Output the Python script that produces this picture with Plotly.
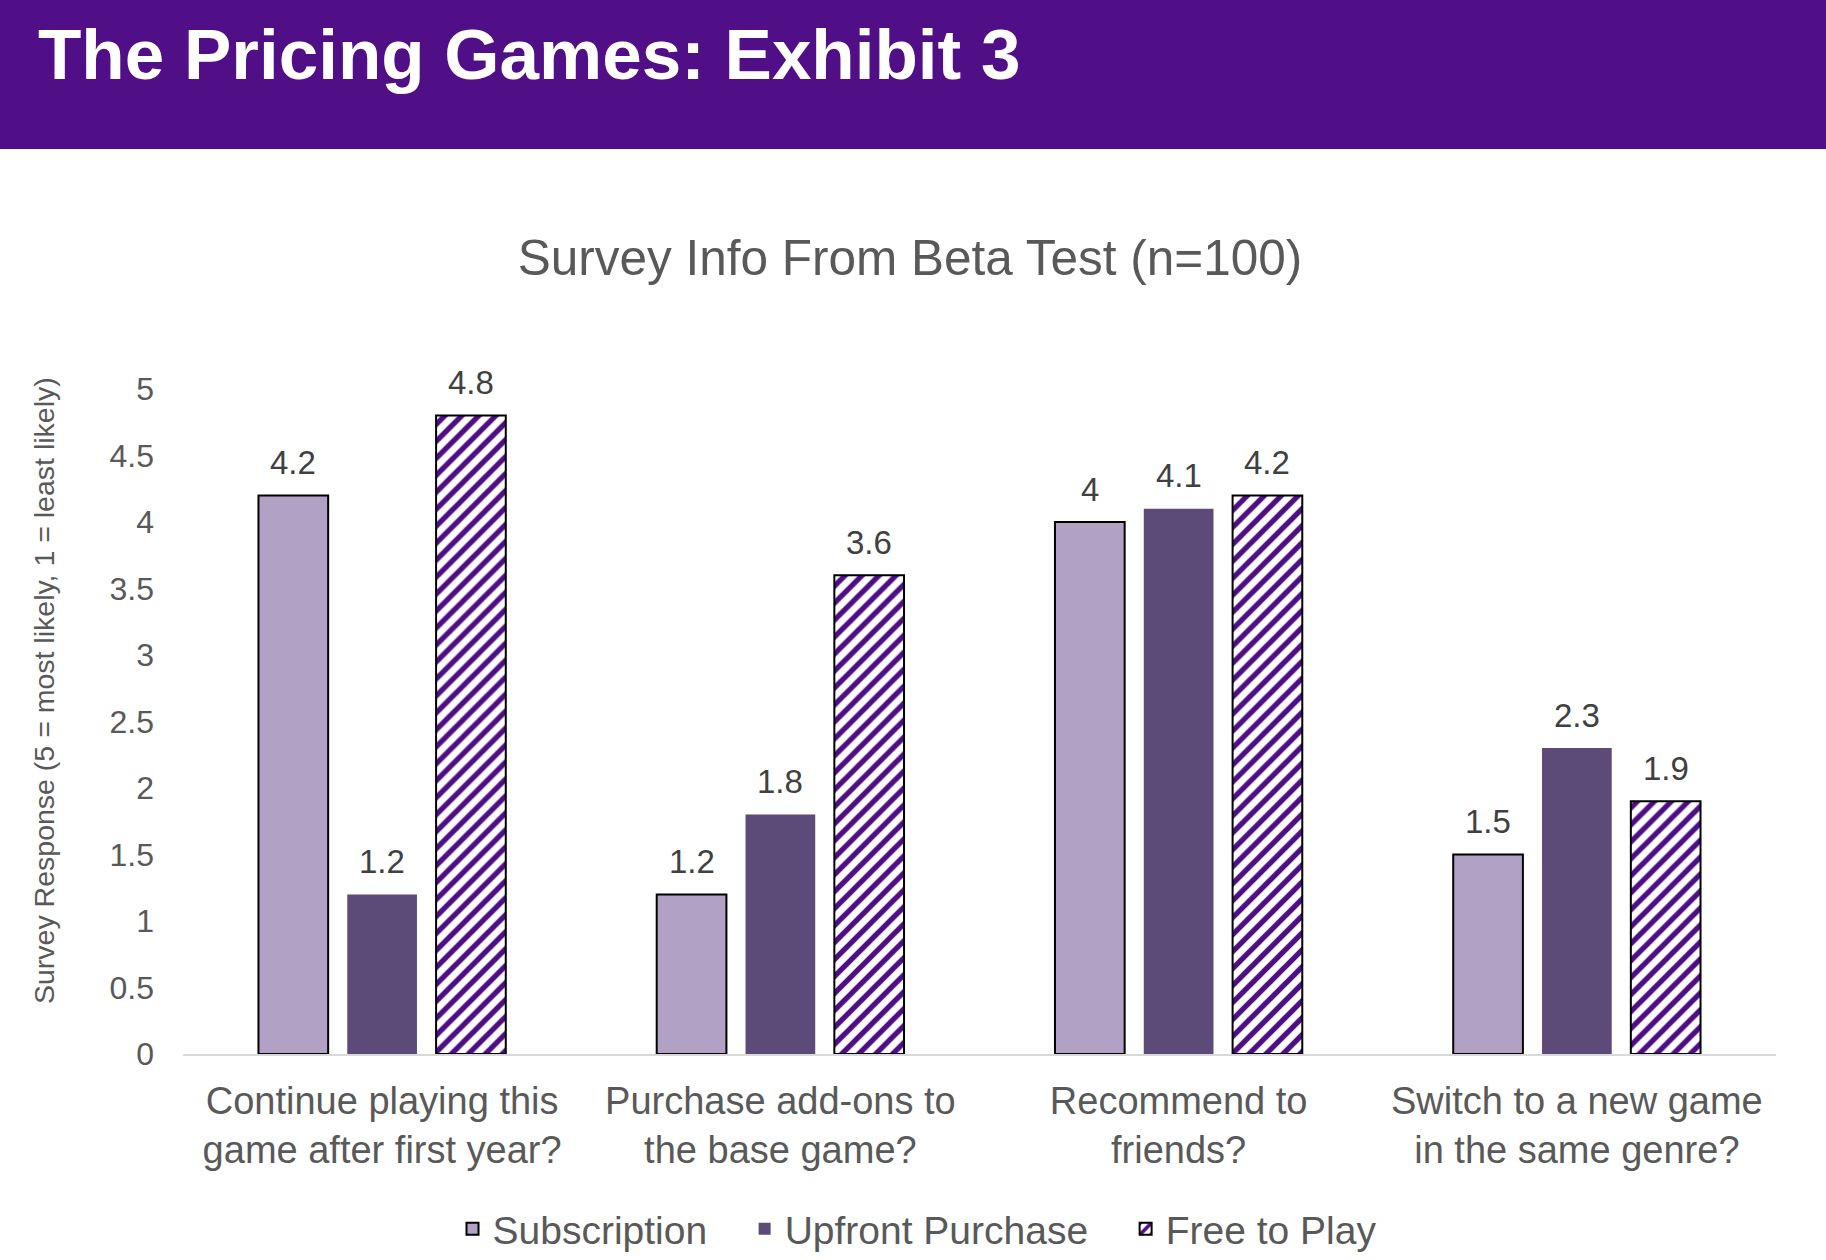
import plotly.graph_objects as go

# ---------------- data ----------------
categories = [
    "Continue playing this<br>game after first year?",
    "Purchase add-ons to<br>the base game?",
    "Recommend to<br>friends?",
    "Switch to a new game<br>in the same genre?",
]
series_names = ["Subscription", "Upfront Purchase", "Free to Play"]
subscription = [4.2, 1.2, 4.0, 1.5]
upfront = [1.2, 1.8, 4.1, 2.3]
free_to_play = [4.8, 3.6, 4.2, 1.9]
y_ticks = [0, 0.5, 1, 1.5, 2, 2.5, 3, 3.5, 4, 4.5, 5]

# ---------------- layout constants ----------------
W, H = 1826, 1260
ML, MR, MT, MB = 183, 50, 389, 206
PW = W - ML - MR
PH = H - MT - MB
FONT = "Liberation Sans, Arial, Helvetica, sans-serif"
GREY = "#595959"
PAD = "&nbsp;" * 3  # extra spacing between legend entries

def px_x(px):
    return (px - ML) / PW

def px_y(py):
    return (H - MB - py) / PH

bar_w = 0.175
pitch = 0.223
offsets = [-pitch, 0.0, pitch]
xs = list(range(len(categories)))

styles = [
    dict(color="#B1A1C5", line=dict(color="#000000", width=2)),
    dict(color="#5C4A78", line=dict(color="#5C4A78", width=0)),
    dict(color="#FFFFFF", line=dict(color="#000000", width=2),
         pattern=dict(shape="/", fgcolor="#4E0E86", bgcolor="#FFFFFF",
                      fgopacity=1, size=12, solidity=0.45,
                      fillmode="replace")),
]
legend_labels = [series_names[0] + PAD, series_names[1] + PAD, series_names[2]]

fig = go.Figure()
all_series = [subscription, upfront, free_to_play]
for name, lbl, vals, off, st in zip(series_names, legend_labels, all_series,
                                    offsets, styles):
    fig.add_trace(go.Bar(
        name=lbl, x=xs, y=vals, width=bar_w, offset=off - bar_w / 2,
        marker=st, hovertemplate=name + ": %{y}<extra></extra>",
    ))

annotations = []
for vals, off in zip(all_series, offsets):
    for i, v in zip(xs, vals):
        annotations.append(dict(
            x=i + off, y=v, xref="x", yref="y", text=f"{v:g}",
            showarrow=False, yanchor="middle", yshift=33,
            font=dict(family=FONT, size=33, color="#404040"),
        ))

# header title
annotations.append(dict(
    x=px_x(36), y=px_y(54), xref="paper", yref="paper",
    text="<b>The Pricing Games: Exhibit 3</b>", showarrow=False,
    xanchor="left", yanchor="middle",
    font=dict(family=FONT, size=71, color="#FFFFFF"),
))
# y-axis title
annotations.append(dict(
    x=px_x(44), y=px_y(691), xref="paper", yref="paper",
    text="Survey Response (5 = most likely, 1 = least likely)",
    showarrow=False, textangle=-90, xanchor="center", yanchor="middle",
    font=dict(family=FONT, size=28.5, color=GREY),
))

shapes = [dict(
    type="rect", xref="paper", yref="paper",
    x0=px_x(-10), x1=px_x(W + 10), y0=px_y(149), y1=px_y(-10),
    fillcolor="#500F86", line=dict(width=0), layer="below",
)]

fig.update_layout(
    width=W, height=H,
    margin=dict(l=ML, r=MR, t=MT, b=MB, autoexpand=False),
    paper_bgcolor="#FFFFFF", plot_bgcolor="#FFFFFF",
    barmode="overlay",
    title=dict(
        text="Survey Info From Beta Test (n=100)",
        x=910 / W, xref="container", xanchor="center",
        y=1 - 258 / H, yref="container", yanchor="middle",
        font=dict(family=FONT, size=49.5, color=GREY),
    ),
    xaxis=dict(
        range=[-0.5, len(categories) - 0.5],
        tickvals=xs, ticktext=categories,
        showgrid=False, zeroline=False,
        showline=True, linecolor="#D9D9D9", linewidth=2,
        ticks="", ticklabelstandoff=12,
        tickfont=dict(family=FONT, size=38, color=GREY),
        fixedrange=True,
    ),
    yaxis=dict(
        range=[0, 5], tickvals=y_ticks,
        ticktext=[f"{t:g}" for t in y_ticks],
        showgrid=False, zeroline=False, showline=False,
        ticks="", ticklabelstandoff=28,
        tickfont=dict(family=FONT, size=32, color=GREY),
        fixedrange=True,
    ),
    legend=dict(
        orientation="h", xref="container", yref="container",
        x=917 / W, xanchor="center", y=1 - 1229 / H, yanchor="middle",
        font=dict(family=FONT, size=39, color=GREY),
        bgcolor="rgba(0,0,0,0)",
    ),
    annotations=annotations,
    shapes=shapes,
    showlegend=True,
)

fig.write_html("out.html")
